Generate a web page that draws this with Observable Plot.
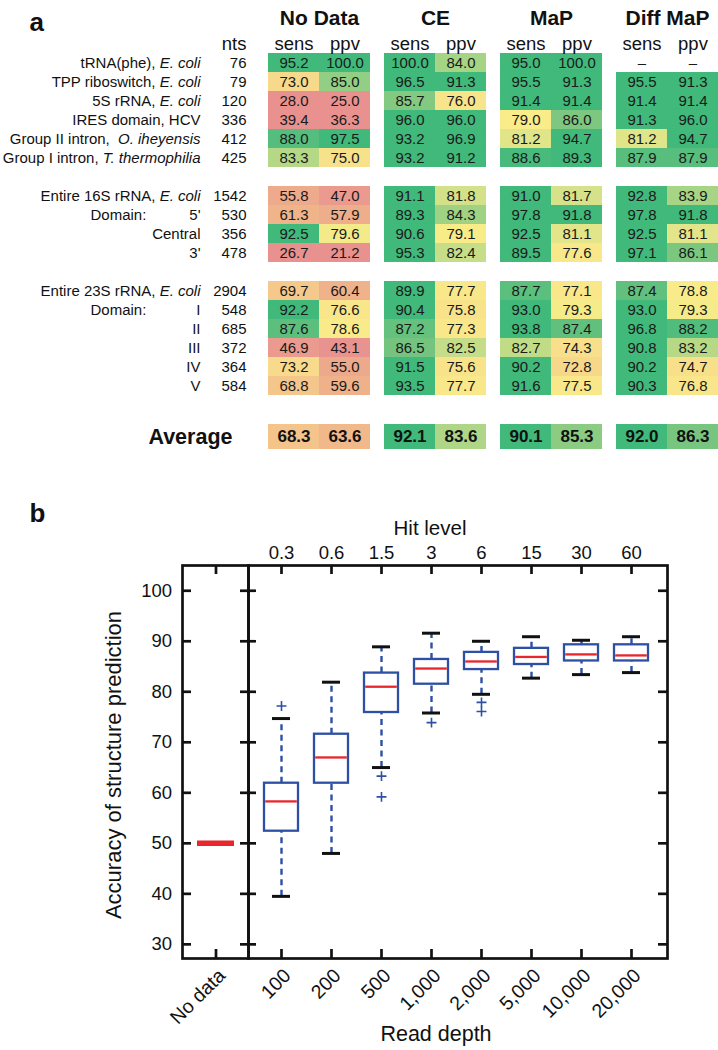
<!DOCTYPE html>
<html><head><meta charset="utf-8">
<script src="https://cdn.jsdelivr.net/npm/d3@7"></script>
<script src="https://cdn.jsdelivr.net/npm/@observablehq/plot@0.6"></script>
<style>
body{margin:0;background:#fff;}
#wrap{position:relative;width:718px;height:1050px;overflow:hidden;background:#fff;}
</style></head><body><div id="wrap"></div>
<script>
// ---------- Panel a data ----------
const methods = ["No Data", "CE", "MaP", "Diff MaP"];
const metrics = ["sens", "ppv"];
const rnaLabels = ["tRNA(phe), *E. coli*", "TPP riboswitch, *E. coli*", "5S rRNA, *E. coli*", "IRES domain, HCV",
  "Group II intron,\u00a0 *O. iheyensis*", "Group I intron, *T. thermophilia*",
  "Entire 16S rRNA, *E. coli*", "5'", "Central", "3'",
  "Entire 23S rRNA, *E. coli*", "I", "II", "III", "IV", "V"];
const rnaGroups = [0,0,0,0,0,0, 1,1,1,1, 2,2,2,2,2,2];
const nts = [76, 79, 120, 336, 412, 425, 1542, 530, 356, 478, 2904, 548, 685, 372, 364, 584];
const domainStartLabels = ["5'", "I"];
const noDataSens = [95.2, 73.0, 28.0, 39.4, 88.0, 83.3, 55.8, 61.3, 92.5, 26.7, 69.7, 92.2, 87.6, 46.9, 73.2, 68.8];
const noDataPpv  = [100.0, 85.0, 25.0, 36.3, 97.5, 75.0, 47.0, 57.9, 79.6, 21.2, 60.4, 76.6, 78.6, 43.1, 55.0, 59.6];
const ceSens  = [100.0, 96.5, 85.7, 96.0, 93.2, 93.2, 91.1, 89.3, 90.6, 95.3, 89.9, 90.4, 87.2, 86.5, 91.5, 93.5];
const cePpv   = [84.0, 91.3, 76.0, 96.0, 96.9, 91.2, 81.8, 84.3, 79.1, 82.4, 77.7, 75.8, 77.3, 82.5, 75.6, 77.7];
const mapSens = [95.0, 95.5, 91.4, 79.0, 81.2, 88.6, 91.0, 97.8, 92.5, 89.5, 87.7, 93.0, 93.8, 82.7, 90.2, 91.6];
const mapPpv  = [100.0, 91.3, 91.4, 86.0, 94.7, 89.3, 81.7, 91.8, 81.1, 77.6, 77.1, 79.3, 87.4, 74.3, 72.8, 77.5];
const diffSens = [null, 95.5, 91.4, 91.3, 81.2, 87.9, 92.8, 97.8, 92.5, 97.1, 87.4, 93.0, 96.8, 90.8, 90.2, 90.3];
const diffPpv  = [null, 91.3, 91.4, 96.0, 94.7, 87.9, 83.9, 91.8, 81.1, 86.1, 78.8, 79.3, 88.2, 83.2, 74.7, 76.8];
const avgSens = [68.3, 92.1, 90.1, 92.0];
const avgPpv  = [63.6, 83.6, 85.3, 86.3];

// ---------- Panel b data ----------
const depthLabels = ["100", "200", "500", "1,000", "2,000", "5,000", "10,000", "20,000"];
const hitLevels = ["0.3", "0.6", "1.5", "3", "6", "15", "30", "60"];
const whiskerLow  = [39.5, 48.0, 65.0, 75.8, 79.5, 82.7, 83.4, 83.8];
const quartile1   = [52.4, 61.9, 75.9, 81.5, 84.4, 85.4, 86.1, 86.1];
const medians     = [58.3, 67.0, 81.0, 84.6, 86.0, 86.9, 87.4, 87.2];
const quartile3   = [61.9, 71.6, 83.7, 86.4, 87.8, 88.6, 89.3, 89.3];
const whiskerHigh = [74.7, 81.9, 88.9, 91.6, 90.0, 90.9, 90.2, 90.9];
const outliers = [[77.2], [], [63.3, 59.2], [73.9], [77.9, 76.1], [], [], []];
const noDataLabel = "No data";
const noDataAccuracy = 50;
const yTicks = [30, 40, 50, 60, 70, 80, 90, 100];

// ---------- build tables ----------
const FONT = '"Liberation Sans", Arial, Helvetica, sans-serif';
const seriesByMethod = [[noDataSens, noDataPpv], [ceSens, cePpv], [mapSens, mapPpv], [diffSens, diffPpv]];
const rowKey = i => "r" + i;
const yDomain = [];
rnaLabels.forEach((_, i) => {
  if (i > 0 && rnaGroups[i] !== rnaGroups[i - 1]) yDomain.push("gap" + i);
  yDomain.push(rowKey(i));
});
const cells = [];
methods.forEach((m, mi) => metrics.forEach((k, ki) => seriesByMethod[mi][ki].forEach((v, i) =>
  cells.push({method: m, metric: k, row: rowKey(i), value: v}))));
const avgCells = [];
methods.forEach((m, mi) => {
  avgCells.push({method: m, metric: "sens", row: "Average", value: avgSens[mi]});
  avgCells.push({method: m, metric: "ppv", row: "Average", value: avgPpv[mi]});
});
const headerCells = methods.flatMap(m => metrics.map(k => ({method: m, metric: k})));
const rows = rnaLabels.map((l, i) => ({row: rowKey(i), label: l, nts: String(nts[i])}));
const domainRows = rows.filter(r => domainStartLabels.includes(r.label));

const colorScale = {
  type: "linear", interpolate: "rgb", clamp: true,
  domain: [42, 55, 61, 69, 74, 79, 81, 84, 86.5, 89],
  range: ["#e8918f", "#eda98c", "#f0b38a", "#f4c68b", "#f8de8b", "#f9ec89", "#e4e68a", "#a6d485", "#74c47f", "#40b97b"]
};
const firstFacet = () => "No Data";
const fxOpts = {domain: methods, paddingInner: 0.123, paddingOuter: 0, axis: null};
const xOpts = {domain: metrics, padding: 0, axis: null};
const styleOpts = {fontFamily: FONT, background: "transparent", overflow: "visible", color: "#111"};

const table = Plot.plot({
  width: 718, height: 49 + yDomain.length * 19.4,
  marginTop: 49, marginLeft: 267, marginRight: 0, marginBottom: 0,
  style: styleOpts,
  fx: fxOpts, x: xOpts,
  y: {domain: yDomain, padding: 0, axis: null},
  color: colorScale,
  marks: [
    Plot.cell(cells.filter(d => d.value != null), {fx: "method", x: "metric", y: "row", fill: "value", inset: 0}),
    Plot.text(cells, {fx: "method", x: "metric", y: "row", text: d => d.value == null ? "\u2013" : d.value.toFixed(1), fontSize: 15, fill: "#1a1a1a"}),
    Plot.text(methods, {fx: d => d, text: d => d, frameAnchor: "top", dy: -39, fontSize: 21, fontWeight: "bold", fill: "#111"}),
    Plot.text(headerCells, {fx: "method", x: "metric", text: "metric", frameAnchor: "top", dy: -13, fontSize: 18.5, fill: "#111"}),
    Plot.text(["nts"], {fx: firstFacet, text: d => d, frameAnchor: "top-left", dx: -22, dy: -13, textAnchor: "end", fontSize: 18.5, fill: "#111"}),
    Plot.text(rows, {fx: firstFacet, y: "row", text: "label", frameAnchor: "left", dx: -68, textAnchor: "end", fontSize: 15, fill: "#111"}),
    Plot.text(rows, {fx: firstFacet, y: "row", text: "nts", frameAnchor: "left", dx: -22, textAnchor: "end", fontSize: 15, fill: "#111"}),
    Plot.text(domainRows, {fx: firstFacet, y: "row", text: () => "Domain:", frameAnchor: "left", dx: -178, textAnchor: "start", fontSize: 15, fill: "#111"}),
    Plot.text(["a"], {fx: firstFacet, text: d => d, frameAnchor: "top-left", dx: -239, dy: -37, textAnchor: "start", fontSize: 26, fontWeight: "bold", fill: "#111"})
  ]
});

const avgTable = Plot.plot({
  width: 718, height: 25,
  marginTop: 0, marginLeft: 267, marginRight: 0, marginBottom: 0,
  style: styleOpts,
  fx: fxOpts, x: xOpts,
  y: {domain: ["Average"], padding: 0, axis: null},
  color: colorScale,
  marks: [
    Plot.cell(avgCells, {fx: "method", x: "metric", y: "row", fill: "value", inset: 0}),
    Plot.text(avgCells, {fx: "method", x: "metric", y: "row", text: d => d.value.toFixed(1), fontSize: 17, fontWeight: "bold", fill: "#111"}),
    Plot.text(["Average"], {fx: firstFacet, y: d => d, text: d => d, frameAnchor: "left", dx: -36, textAnchor: "end", fontSize: 21.5, fontWeight: "bold", fill: "#111"})
  ]
});

// ---------- Panel b ----------
const BLUE = "#2d50a4", RED = "#e8262b", INK = "#111";
const boxes = depthLabels.map((c, i) => ({cat: c, lo: whiskerLow[i], q1: quartile1[i], med: medians[i], q3: quartile3[i], hi: whiskerHigh[i]}));
const outlierPts = depthLabels.flatMap((c, i) => outliers[i].map(v => ({cat: c, v})));
const PH = 550, MT = 65, MB = 92;
const frameH = PH - MT - MB;
const yScale = {domain: [27.2, 105], axis: null};

const p1W = 248, p1ML = 182;
const p1FrameW = p1W - p1ML;
const plotNoData = Plot.plot({
  width: p1W, height: PH, marginTop: MT, marginBottom: MB, marginLeft: p1ML, marginRight: 0,
  style: styleOpts,
  x: {domain: [noDataLabel], padding: 0.28, axis: null},
  y: yScale,
  marks: [
    Plot.frame({stroke: INK, strokeWidth: 2.7}),
    Plot.axisY(yTicks, {anchor: "left", tickSize: 0, tickPadding: 10.5, fontSize: 18.5, label: null}),
    Plot.tickY(yTicks, {y: d => d, stroke: INK, strokeWidth: 2.7, insetRight: p1FrameW - 9}),
    Plot.tickX([noDataLabel], {x: d => d, stroke: INK, strokeWidth: 2.7, insetTop: frameH - 9}),
    Plot.tickX([noDataLabel], {x: d => d, stroke: INK, strokeWidth: 2.7, insetBottom: frameH - 9}),
    Plot.axisX({anchor: "bottom", tickSize: 0, tickRotate: -45, tickPadding: 14, dx: 6, fontSize: 19.5, label: null}),
    Plot.tickY([noDataAccuracy], {x: () => noDataLabel, y: d => d, stroke: RED, strokeWidth: 5.5}),
    Plot.text(["Accuracy of structure prediction"], {text: d => d, frameAnchor: "left", textAnchor: "middle", rotate: -90, dx: -69, dy: 3, fontSize: 22, fill: INK}),
    Plot.text(["b"], {text: d => d, frameAnchor: "top-left", dx: -153, dy: -62, textAnchor: "start", fontSize: 26, fontWeight: "bold", fill: INK})
  ]
});

const p2Left = 238, p2W = 480, p2ML = 10, p2MR = 51;
const p2FrameW = p2W - p2ML - p2MR;
const plotDepth = Plot.plot({
  width: p2W, height: PH, marginTop: MT, marginBottom: MB, marginLeft: p2ML, marginRight: p2MR,
  style: styleOpts,
  x: {domain: depthLabels, paddingInner: 0.33, paddingOuter: 0.29, align: 0.45, axis: null},
  y: yScale,
  marks: [
    Plot.ruleX(boxes, {x: "cat", y1: "lo", y2: "q1", stroke: BLUE, strokeWidth: 2.4, strokeDasharray: "6,4.5"}),
    Plot.ruleX(boxes, {x: "cat", y1: "q3", y2: "hi", stroke: BLUE, strokeWidth: 2.4, strokeDasharray: "6,4.5"}),
    Plot.barY(boxes, {x: "cat", y1: "q1", y2: "q3", fill: "white", stroke: BLUE, strokeWidth: 2.3}),
    Plot.tickY(boxes, {x: "cat", y: "med", stroke: RED, strokeWidth: 2.3, insetLeft: 1.2, insetRight: 1.2}),
    Plot.tickY(boxes, {x: "cat", y: "hi", stroke: INK, strokeWidth: 3, insetLeft: 8, insetRight: 8}),
    Plot.tickY(boxes, {x: "cat", y: "lo", stroke: INK, strokeWidth: 3, insetLeft: 8, insetRight: 8}),
    Plot.dot(outlierPts, {x: "cat", y: "v", symbol: "plus", r: 3.3, stroke: BLUE, strokeWidth: 1.6}),
    Plot.frame({stroke: INK, strokeWidth: 2.7}),
    Plot.tickY(yTicks, {y: d => d, stroke: INK, strokeWidth: 2.7, insetLeft: -8, insetRight: p2FrameW - 8}),
    Plot.tickY(yTicks, {y: d => d, stroke: INK, strokeWidth: 2.7, insetLeft: p2FrameW - 9}),
    Plot.tickX(depthLabels, {x: d => d, stroke: INK, strokeWidth: 2.7, insetTop: frameH - 9}),
    Plot.tickX(depthLabels, {x: d => d, stroke: INK, strokeWidth: 2.7, insetBottom: frameH - 9}),
    Plot.axisX({anchor: "bottom", tickSize: 0, tickRotate: -45, tickPadding: 14, dx: 6, fontSize: 19.5, label: null}),
    Plot.axisX({anchor: "top", tickSize: 0, tickPadding: 7, fontSize: 18.5, label: null, tickFormat: d => hitLevels[depthLabels.indexOf(d)]}),
    Plot.text(["Hit level"], {text: d => d, frameAnchor: "top", dx: -28, dy: -45, fontSize: 20.5, fill: INK}),
    Plot.text(["Read depth"], {text: d => d, frameAnchor: "bottom", dx: -22, dy: 82, fontSize: 21.5, fill: INK})
  ]
});

// italic parts of labels
function italicize(svg) {
  svg.querySelectorAll("text").forEach(t => {
    if (t.querySelector("tspan")) return;
    const s = t.textContent;
    if (!s.includes("*")) return;
    const parts = s.split("*");
    t.textContent = "";
    parts.forEach((p, i) => {
      if (!p) return;
      const ts = document.createElementNS("http://www.w3.org/2000/svg", "tspan");
      if (i % 2 === 1) ts.setAttribute("font-style", "italic");
      ts.textContent = p;
      t.appendChild(ts);
    });
  });
}
italicize(table);

const wrap = document.getElementById("wrap");
function place(el, left, top) {
  el.style.position = "absolute";
  el.style.left = left + "px";
  el.style.top = top + "px";
  el.style.maxWidth = "none";
  wrap.appendChild(el);
}
place(table, 0, 0);
place(avgTable, 0, 424);
place(plotNoData, 0, 500);
place(plotDepth, p2Left, 500);
</script></body></html>
